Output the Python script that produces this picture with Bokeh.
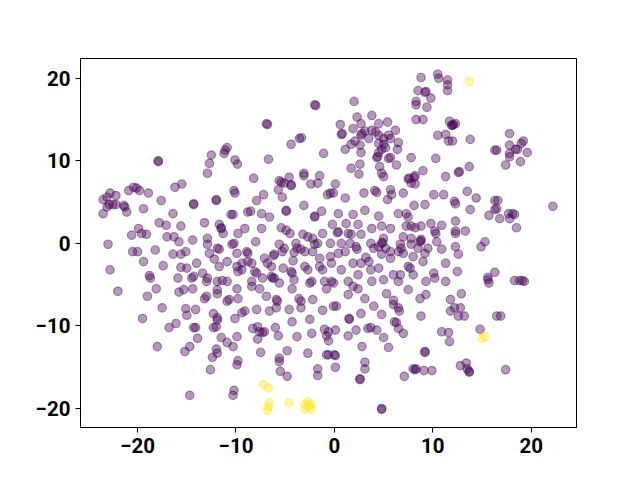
from bokeh.plotting import figure
from bokeh.models import FixedTicker, Range1d
from bokeh.embed import file_html
from bokeh.resources import INLINE

# ---- data ----
top_far_left = [(-17.9, 9.9), (-17.9, 10.0)]

top_left = [(-1.9, 16.7), (-2.0, 16.8), (-6.8, 14.4), (-6.9, 14.5), (-3.35, 12.8), (-3.55, 12.7),
            (-4.4, 12.0), (-10.9, 11.6), (-11.1, 11.3), (-11.2, 10.9), (-12.5, 10.7), (-12.7, 9.7),
            (-10.1, 10.1), (-9.85, 9.6), (-6.7, 10.2), (-1.1, 10.9), (-12.9, 8.5), (-8.2, 7.9),
            (-5.6, 7.6), (-4.6, 8.0), (-3.1, 8.5), (-3.1, 8.2), (-1.5, 8.2)]

top_center = [(2.0, 17.2), (8.8, 20.1), (10.5, 20.5), (10.6, 20.0), (11.5, 19.8), (11.5, 19.2),
              (11.5, 18.5), (8.5, 18.5), (9.2, 18.3), (9.3, 18.4), (9.8, 17.6), (8.3, 17.2),
              (8.3, 16.8), (9.4, 16.5), (8.3, 15.0), (9.0, 15.0), (11.7, 14.8), (11.9, 14.3),
              (10.5, 13.1), (11.3, 13.2), (11.6, 12.4), (3.8, 15.5), (2.3, 15.3), (2.7, 14.5),
              (1.9, 13.9), (0.6, 14.4), (0.7, 13.2), (0.8, 13.3), (2.8, 13.3), (3.1, 13.6),
              (3.8, 13.7), (4.2, 13.5), (4.5, 14.5), (5.4, 14.7), (6.2, 13.7), (4.5, 13.1),
              (5.5, 13.1), (5.0, 12.7), (5.7, 12.7), (3.5, 12.7), (2.7, 13.1), (2.1, 12.4),
              (1.1, 11.4), (1.7, 12.0), (2.6, 11.9), (2.7, 11.0), (4.5, 12.1), (5.0, 12.0),
              (5.2, 11.6), (4.8, 11.4), (4.5, 11.0), (6.5, 12.2), (6.4, 11.4), (5.5, 10.3),
              (5.7, 10.4), (4.3, 10.4), (4.4, 10.5), (6.3, 9.5), (4.6, 9.3), (2.6, 9.6),
              (1.7, 9.1), (2.5, 8.4), (4.8, 8.5), (5.0, 8.1), (7.8, 10.4), (10.3, 10.3),
              (9.0, 8.8), (8.2, 8.2), (8.1, 8.0), (7.5, 7.8), (7.6, 7.9), (11.3, 8.1)]

top_right = [(12.3, 14.5), (12.0, 14.3), (12.1, 14.4), (13.8, 12.6), (12.0, 12.4), (17.8, 13.3),
             (19.2, 12.4), (19.0, 12.1), (16.5, 11.3), (16.3, 11.3), (17.8, 11.9), (18.4, 11.4),
             (18.6, 11.4), (17.8, 10.9), (17.8, 10.5), (19.6, 11.0), (18.9, 9.9), (17.4, 9.5),
             (13.7, 9.3), (12.7, 8.7), (12.6, 8.6)]

mid_left = [(-22.8, 6.1), (-23.1, 5.6), (-23.5, 5.3), (-22.9, 4.7), (-23.1, 4.4), (-22.5, 4.7),
            (-22.2, 5.8), (-22.2, 4.7), (-23.5, 3.6), (-21.4, 4.6), (-21.3, 4.4), (-21.1, 3.8),
            (-20.9, 6.4), (-20.4, 6.8), (-20.1, 6.7), (-19.8, 6.4), (-18.9, 6.1), (-19.4, 4.2),
            (-17.6, 5.2), (-16.2, 6.8), (-15.5, 7.2), (-14.3, 4.7), (-14.3, 4.8), (-16.4, 3.6),
            (-13.2, 2.5), (-17.8, 2.5), (-17.1, 2.2), (-15.6, 2.1), (-19.9, 1.8), (-19.6, 1.2),
            (-19.1, 1.1), (-20.6, 1.0), (-23.0, -0.1), (-17.0, 0.8), (-16.3, 0.8), (-15.8, 0.2),
            (-14.4, 0.4), (-20.5, -1.0), (-20.0, -1.0), (-18.2, -0.8), (-19.4, -2.2), (-16.4, -1.3),
            (-15.6, -1.3), (-15.1, -1.0), (-17.4, -2.7), (-22.8, -3.2), (-15.6, -2.9), (-15.0, -3.0),
            (-14.0, -2.4), (-18.8, -3.9), (-18.7, -4.2), (-15.9, -4.2), (-14.5, -4.2), (-14.3, -4.0),
            (-13.4, -3.6), (-22.0, -5.8), (-19.0, -6.4), (-18.1, -5.5), (-15.8, -5.9), (-15.3, -5.6),
            (-14.4, -5.5), (-13.2, -6.7)]

mid_center_left = [(-12.0, 5.2), (-12.0, 5.3), (-10.2, 6.4), (-10.1, 6.1), (-7.2, 5.9), (-7.9, 5.2),
                   (-5.4, 7.4), (-5.1, 7.3), (-4.4, 7.0), (-4.4, 7.1), (-5.7, 6.5), (-5.3, 5.6),
                   (-2.4, 7.2), (-1.7, 7.3), (-3.1, 4.6), (-0.7, 5.9), (-10.5, 3.5), (-10.3, 3.5),
                   (-8.8, 3.8), (-8.5, 3.9), (-7.4, 3.6), (-6.6, 3.2), (-4.9, 3.9), (-4.9, 4.0),
                   (-2.0, 3.2), (-2.0, 3.3), (-1.3, 3.9), (-11.7, 2.3), (-11.5, 1.8), (-11.5, 1.9),
                   (-11.3, 1.2), (-9.1, 1.8), (-9.8, 1.2), (-7.4, 1.8), (-5.4, 1.9), (-4.9, 1.6),
                   (-4.5, 1.2), (-3.2, 1.1), (-2.7, 0.8), (-2.2, 0.6), (-1.7, 0.0), (-2.0, -0.1),
                   (-1.2, 1.2), (-12.9, 0.6), (-12.9, -0.1), (-10.2, 0.0), (-10.4, -0.1), (-8.0, 0.2),
                   (-5.6, -0.1), (-5.1, -0.6), (-5.3, -1.0), (-3.9, 0.0), (-3.8, -0.6), (-3.4, -0.7),
                   (-3.0, -1.0), (-11.9, -0.6), (-11.7, -0.7), (-12.7, -1.2), (-9.9, -1.2), (-8.9, -1.0),
                   (-8.8, -1.2), (-7.1, -1.8), (-6.2, -1.5), (-6.1, -1.3), (-4.1, -1.1), (-4.2, -2.1),
                   (-2.2, -1.0), (-1.5, -1.8), (-12.2, -1.9), (-11.7, -2.8), (-10.9, -2.2), (-9.4, -2.4),
                   (-8.8, -2.2), (-8.4, -2.4), (-6.8, -2.4), (-6.4, -2.8), (-5.2, -3.0), (-4.4, -3.4),
                   (-4.3, -3.6), (-3.0, -2.8), (-2.7, -3.2), (-1.2, -3.2), (-1.5, -2.8), (-9.8, -3.4),
                   (-9.4, -3.2), (-9.9, -2.8), (-8.1, -3.4), (-7.9, -3.6), (-12.9, -4.2), (-13.0, -4.6),
                   (-11.9, -4.6), (-11.4, -4.5), (-10.9, -4.6), (-6.4, -4.0), (-6.3, -4.2), (-6.1, -4.2),
                   (-8.4, -4.6), (-8.4, -5.2), (-7.3, -4.2), (-5.6, -4.8), (-4.1, -4.4), (-4.3, -5.5),
                   (-2.3, -4.6), (-2.5, -4.8), (-1.0, -4.6), (-0.8, -5.5), (-11.9, -5.6), (-11.9, -6.1),
                   (-9.9, -5.5), (-7.6, -5.5), (-13.0, -6.4), (-10.7, -6.8), (-10.9, -7.0), (-9.8, -6.7),
                   (-6.9, -6.4), (-5.9, -6.8), (-5.8, -7.0), (-3.6, -6.7), (-3.4, -7.0), (-2.2, -6.8)]

mid_center_right = [(-0.4, 6.1), (-0.1, 6.1), (0.1, 7.2), (1.1, 5.5), (3.0, 6.1), (4.1, 6.4), (4.3, 6.2),
                    (5.7, 6.5), (5.8, 5.9), (5.4, 5.3), (7.0, 6.1), (7.8, 7.3), (8.2, 7.2), (10.1, 5.9),
                    (11.1, 5.9), (8.1, 4.6), (9.2, 4.7), (0.4, 3.6), (1.9, 3.5), (3.1, 4.0), (4.5, 3.3),
                    (6.5, 3.6), (7.3, 3.6), (7.5, 3.2), (-0.2, 2.3), (1.2, 2.4), (0.3, 1.3), (0.4, 1.4),
                    (2.4, 2.3), (3.8, 1.8), (4.8, 2.1), (5.7, 1.8), (7.3, 2.1), (7.8, 2.1), (8.2, 1.9),
                    (8.8, 2.1), (9.8, 2.4), (10.2, 1.5), (10.9, 2.2), (1.4, 1.2), (1.7, 1.1), (2.7, 1.1),
                    (5.0, 0.6), (4.8, 0.0), (4.9, 0.1), (7.0, 0.8), (7.8, 0.6), (8.8, 0.5), (8.7, 0.2),
                    (8.8, 0.3), (10.3, 1.2), (10.4, 0.2), (-0.4, 0.0), (0.7, 0.0), (1.6, 0.0), (2.2, -0.4),
                    (3.7, 0.0), (4.0, -0.6), (4.5, -0.4), (5.2, -0.6), (5.7, -1.0), (6.7, -0.1), (6.8, -0.6),
                    (7.8, -0.1), (8.5, -0.6), (9.5, -0.6), (10.9, -0.7), (1.1, -1.0), (0.4, -1.2), (2.3, -0.7),
                    (6.5, -1.0), (7.0, -1.2), (9.2, -1.2), (-0.4, -1.6), (3.2, -1.7), (3.5, -2.2), (4.8, -1.3),
                    (5.7, -1.8), (8.0, -1.6), (9.0, -2.2), (-0.3, -2.4), (1.9, -2.4), (2.7, -2.4), (7.5, -2.8),
                    (7.7, -3.0), (11.3, -2.4), (0.7, -3.2), (3.7, -3.2), (4.5, -3.0), (8.0, -3.8), (10.1, -3.6),
                    (10.2, -4.2), (2.4, -3.8), (6.0, -3.8), (6.7, -3.8), (-0.3, -4.6), (-0.1, -4.8), (1.4, -4.6),
                    (3.8, -4.6), (5.0, -4.4), (6.5, -4.6), (9.3, -4.6), (11.3, -4.6), (1.9, -5.2), (2.4, -5.5),
                    (1.4, -6.2), (5.3, -6.1), (7.5, -5.6), (9.3, -6.2), (8.7, -6.7), (11.8, -6.8), (3.1, -6.7),
                    (6.0, -6.9)]

mid_right = [(12.2, 5.1), (12.3, 4.8), (13.5, 6.3), (14.4, 5.5), (13.8, 4.1), (16.3, 5.2), (16.6, 5.2),
             (16.5, 4.2), (16.3, 4.1), (15.7, 3.4), (16.8, 3.0), (17.7, 3.6), (18.3, 3.5), (17.8, 3.0),
             (18.1, 3.6), (18.5, 1.9), (22.2, 4.5), (12.3, 2.7), (12.3, 1.5), (12.3, 1.2), (13.3, 1.5),
             (15.3, 0.2), (14.9, -0.4), (12.3, -0.4), (12.6, -1.3), (12.5, -3.4), (16.3, -3.5),
             (15.6, -4.1), (15.6, -4.4), (15.7, -4.8), (18.3, -4.5), (18.8, -4.5), (19.1, -4.5),
             (19.3, -4.6), (12.9, -6.1)]

low_left = [(-17.5, -7.8), (-19.5, -9.1), (-15.1, -7.9), (-14.1, -8.0), (-15.0, -8.7), (-16.1, -9.7),
            (-16.8, -10.2), (-14.3, -10.2), (-14.1, -10.2), (-13.9, -11.5), (-18.0, -12.5),
            (-14.7, -12.5), (-15.2, -13.1), (-14.7, -18.4)]

low_center_left = [(-12.3, -8.5), (-11.9, -9.0), (-11.9, -9.3), (-12.3, -10.2), (-12.0, -10.1),
                   (-10.1, -9.1), (-9.4, -8.4), (-9.1, -8.2), (-7.9, -8.0), (-8.3, -10.3), (-7.8, -10.1),
                   (-7.6, -10.7), (-7.3, -10.8), (-7.8, -11.6), (-7.1, -10.7), (-6.6, -8.2), (-5.9, -7.8),
                   (-4.6, -8.0), (-3.4, -7.8), (-4.3, -9.5), (-2.5, -9.2), (-6.0, -10.2), (-5.7, -11.2),
                   (-3.8, -11.3), (-2.3, -10.9), (-1.2, -8.1), (-1.0, -10.4), (-0.8, -11.2), (-11.5, -11.4),
                   (-10.9, -12.0), (-10.3, -12.5), (-9.9, -11.3), (-12.0, -12.8), (-11.9, -13.3),
                   (-12.4, -13.8), (-12.6, -15.3), (-9.8, -14.2), (-9.9, -14.7), (-7.5, -13.2), (-5.6, -13.9),
                   (-5.6, -14.3), (-4.8, -13.0), (-5.5, -15.5), (-4.8, -16.1), (-2.7, -13.3), (-1.7, -15.2),
                   (-1.7, -16.0), (-0.8, -13.5), (-10.2, -17.8), (-10.3, -18.4)]

low_center_right = [(-0.1, -7.6), (0.2, -7.6), (4.0, -7.6), (2.7, -8.5), (4.8, -8.6), (6.0, -7.4),
                    (6.5, -7.8), (6.6, -8.2), (1.5, -9.2), (1.5, -9.1), (3.7, -10.2), (3.4, -10.3),
                    (4.3, -10.5), (6.1, -9.5), (6.3, -9.6), (6.5, -10.3), (7.0, -10.9), (8.8, -8.8),
                    (0.1, -10.5), (-0.6, -10.7), (2.2, -10.5), (1.4, -11.2), (5.0, -11.4), (-0.6, -11.8),
                    (2.8, -12.5), (5.5, -12.6), (-0.6, -13.5), (0.0, -13.5), (0.1, -13.6), (0.1, -15.0),
                    (3.1, -14.4), (3.1, -15.2), (2.6, -16.5), (2.6, -16.4), (9.2, -13.2), (9.2, -13.1),
                    (8.0, -15.2), (8.2, -15.3), (8.3, -15.2), (9.1, -15.4), (9.9, -15.4), (7.1, -16.1),
                    (4.8, -20.0), (4.8, -20.1), (10.9, -10.7), (11.6, -10.8), (11.7, -11.9), (11.8, -8.2)]

low_right = [(12.2, -7.8), (12.8, -7.8), (12.6, -8.8), (13.2, -8.8), (16.5, -8.8), (16.9, -8.8),
             (14.8, -10.4), (12.8, -14.8), (13.4, -14.5), (13.5, -15.2), (13.7, -15.6), (13.7, -15.5),
             (17.4, -15.3)]

class_one = [(-7.2, -17.1), (-6.7, -17.5), (-6.6, -19.3), (-6.7, -19.8), (-6.8, -20.2), (-4.6, -19.3),
             (-3.0, -19.5), (-2.7, -19.2), (-2.4, -19.5), (-3.0, -20.1), (-2.3, -20.1), (-2.6, -19.8),
             (13.7, 19.6), (15.0, -11.5), (15.3, -11.3)]

x_ticks = [-20, -10, 0, 10, 20]
y_ticks = [-20, -10, 0, 10, 20]

class_zero = (top_far_left + top_left + top_center + top_right + mid_left + mid_center_left +
              mid_center_right + mid_right + low_left + low_center_left + low_center_right + low_right)

PURPLE = "#440154"
YELLOW = "#fde725"

p = figure(width=624, height=464, output_backend="svg", toolbar_location=None,
           x_range=Range1d(-25.8, 24.6), y_range=Range1d(-22.3, 22.4),
           min_border_left=80, min_border_right=48, min_border_top=58, min_border_bottom=37)

for pts, col in ((class_zero, PURPLE), (class_one, YELLOW)):
    xs = [a for a, b in pts]
    ys = [b for a, b in pts]
    p.scatter(xs, ys, size=8.5, fill_color=col, line_color=col,
              fill_alpha=0.4, line_alpha=0.4, line_width=1.2)

p.xgrid.visible = False
p.ygrid.visible = False
p.outline_line_color = "black"
p.outline_line_width = 1
p.outline_line_alpha = 1

def minus(v):
    return ("\u2212" + str(-v)) if v < 0 else str(v)

for ax, ticks in ((p.xaxis[0], x_ticks), (p.yaxis[0], y_ticks)):
    ax.ticker = FixedTicker(ticks=ticks)
    ax.major_label_overrides = {t: minus(t) for t in ticks}
    ax.minor_tick_line_color = None
    ax.major_tick_in = 0
    ax.major_tick_out = 5
    ax.major_tick_line_color = "black"
    ax.axis_line_color = "black"
    ax.major_label_text_font = "Roboto"
    ax.major_label_text_font_style = "bold"
    ax.major_label_text_font_size = "20.5px"
    ax.major_label_text_color = "black"
    ax.major_label_standoff = 5

p.background_fill_color = "white"
p.border_fill_color = "white"

open("out.html", "w").write(file_html(p, INLINE))
